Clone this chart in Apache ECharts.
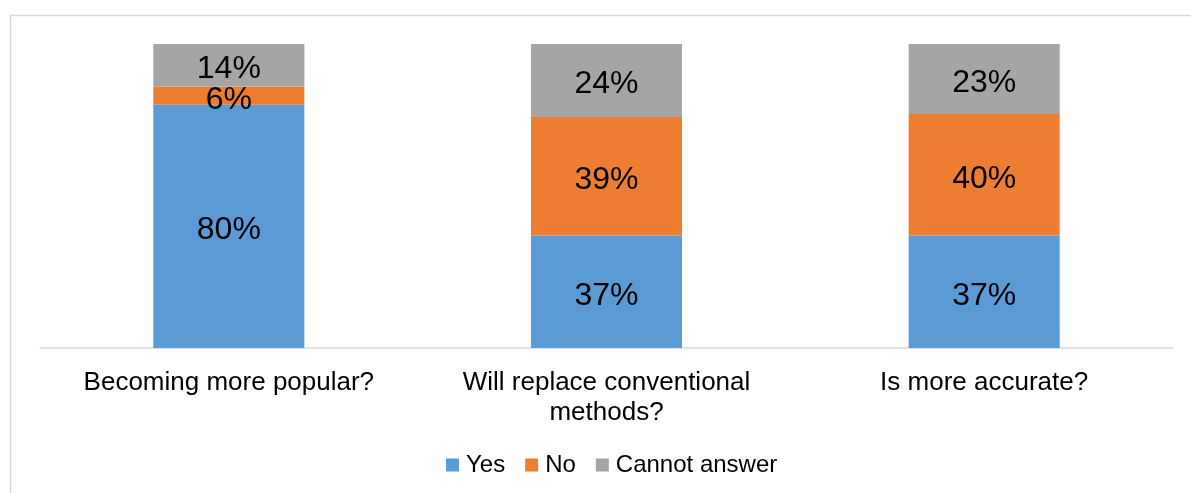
<!DOCTYPE html>
<html>
<head>
<meta charset="utf-8">
<script src="https://cdn.jsdelivr.net/npm/echarts@6/dist/echarts.min.js"></script>
<style>
  html, body { margin: 0; padding: 0; background: #fff; }
  #chart { width: 1191px; height: 493px; }
</style>
</head>
<body>
<div id="chart"></div>
<script>
const categories = ['Becoming more popular?', 'Will replace conventional\nmethods?', 'Is more accurate?'];
const yesValues = [80, 37, 37];
const noValues = [6, 39, 40];
const cannotValues = [14, 24, 23];

const chart = echarts.init(document.getElementById('chart'));

const labelStyle = {
  show: true,
  position: 'inside',
  offset: [0, 4],
  formatter: '{c}%',
  color: '#000',
  fontSize: 32,
  fontFamily: 'Liberation Sans, Arial, sans-serif'
};

function makeSeries(name, data, color) {
  return {
    name: name,
    type: 'bar',
    stack: 'total',
    data: data,
    barWidth: '40%',
    itemStyle: { color: color },
    label: labelStyle
  };
}

chart.setOption({
  animation: false,
  backgroundColor: '#fff',
  textStyle: { fontFamily: 'Liberation Sans, Arial, sans-serif' },
  graphic: [{
    type: 'rect',
    shape: { x: 10.5, y: 15.5, width: 1200, height: 500 },
    style: { fill: 'none', stroke: '#d9d9d9', lineWidth: 1.5 },
    silent: true
  }],
  grid: { left: 40, right: 18, top: 44, bottom: 145 },
  legend: {
    bottom: 11,
    left: 441,
    itemWidth: 13,
    itemHeight: 13,
    itemGap: 20,
    icon: 'rect',
    textStyle: { color: '#000', fontSize: 24, padding: [0, 0, 0, 2] },
    data: ['Yes', 'No', 'Cannot answer']
  },
  xAxis: {
    type: 'category',
    data: categories,
    axisLine: { lineStyle: { color: '#d9d9d9', width: 1.5 } },
    axisTick: { show: false },
    axisLabel: { color: '#000', fontSize: 26, margin: 20, lineHeight: 30 }
  },
  yAxis: {
    type: 'value',
    min: 0,
    max: 100,
    show: false,
    splitLine: { show: false }
  },
  series: [
    makeSeries('Yes', yesValues, '#5b9bd5'),
    makeSeries('No', noValues, '#ed7d31'),
    makeSeries('Cannot answer', cannotValues, '#a5a5a5')
  ]
});
</script>
</body>
</html>
